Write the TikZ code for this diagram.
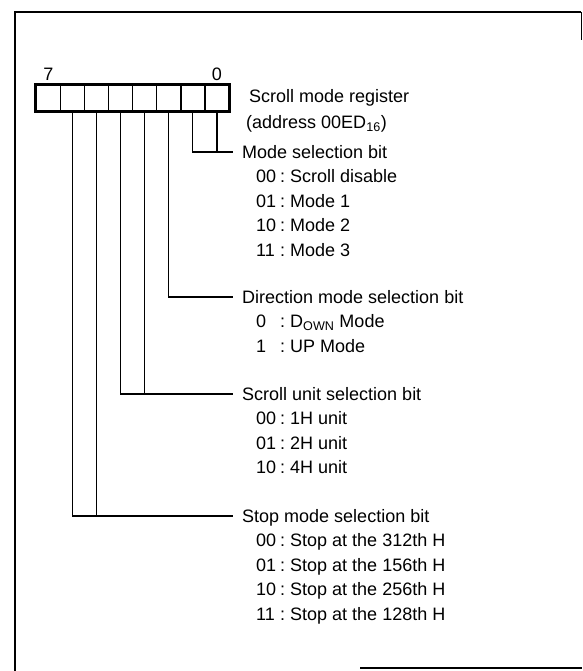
\documentclass[tikz,border=0pt]{standalone}
\usepackage{fontspec}
\setmainfont{Liberation Sans}
\usetikzlibrary{positioning, fit}

\newcommand{\opt}[2]{\makebox[24pt][l]{#1}:\hspace{5pt}#2}

\begin{document}
\begin{tikzpicture}[
    x=1pt, y=-1pt,
    font=\fontsize{18}{21}\selectfont,
    cell/.style={rectangle, draw, line width=1.3pt, minimum width=24.1pt,
                 minimum height=26pt, inner sep=0pt},
    regbox/.style={rectangle, draw, line width=3pt, inner sep=0pt},
    head/.style={anchor=west, inner xsep=9pt, inner ysep=0pt,
                 text height=13pt, text depth=0pt},
    item/.style={anchor=west, inner sep=0pt, text height=13pt, text depth=0pt},
    bitno/.style={inner sep=0pt, text height=13pt, text depth=0pt},
    conn/.style={line width=1.1pt},
    frame/.style={line width=2.5pt}
  ]
  \useasboundingbox (0,0) rectangle (582,671);
  % outer frame
  \draw[frame] (15,671) -- (15,12) -- (581,12);
  \draw[line width=1pt] (581,12) -- (581,40);
  \draw[frame] (360,668) -- (582,668);

  % register, bit 0 on the right
  \foreach \b in {0,...,7}
    \node[cell] (b\b) at ({217-24.1*\b}, 98) {};
  \node[regbox, fit=(b7)(b0)] (reg) {};
  \node[bitno, above=4pt of b7] (msb) {7};
  \node[bitno, above=4pt of b0] (lsb) {0};
  \node[item] (regname) at (249,96) {Scroll mode register};
  \node[item] (regaddr) at (246,122) {(address 00ED\textsubscript{16})};

  % bit fields
  \node[head] (mode) at (233,152) {Mode selection bit};
  \node[head] (dir) at (233,297) {Direction mode selection bit};
  \node[head] (unit) at (233,394) {Scroll unit selection bit};
  \node[head] (stop) at (233,516) {Stop mode selection bit};

  \foreach \c/\t [count=\i] in {00/Scroll disable, 01/Mode 1, 10/Mode 2, 11/Mode 3}
    \node[item] (mode\i) at (256, 152+24.4*\i) {\opt{\c}{\t}};
  \foreach \c/\t [count=\i] in {0/{D\textsubscript{OWN} Mode}, 1/UP Mode}
    \node[item] (dir\i) at (256, 297+24.4*\i) {\opt{\c}{\t}};
  \foreach \c/\t [count=\i] in {00/1H unit, 01/2H unit, 10/4H unit}
    \node[item] (unit\i) at (256, 394+24.4*\i) {\opt{\c}{\t}};
  \foreach \c/\t [count=\i] in {00/Stop at the 312th H, 01/Stop at the 156th H,
                                 10/Stop at the 256th H, 11/Stop at the 128th H}
    \node[item] (stop\i) at (256, 516+24.4*\i) {\opt{\c}{\t}};

  % connectors
  \draw[conn] (b1.south) |- (mode.west);
  \draw[conn] (b0.south) -- (b0.south |- mode.west);
  \draw[conn] (b2.south) |- (dir.west);
  \draw[conn] (b4.south) |- (unit.west);
  \draw[conn] (b3.south) -- (b3.south |- unit.west);
  \draw[conn] (b6.south) |- (stop.west);
  \draw[conn] (b5.south) -- (b5.south |- stop.west);
\end{tikzpicture}
\end{document}
